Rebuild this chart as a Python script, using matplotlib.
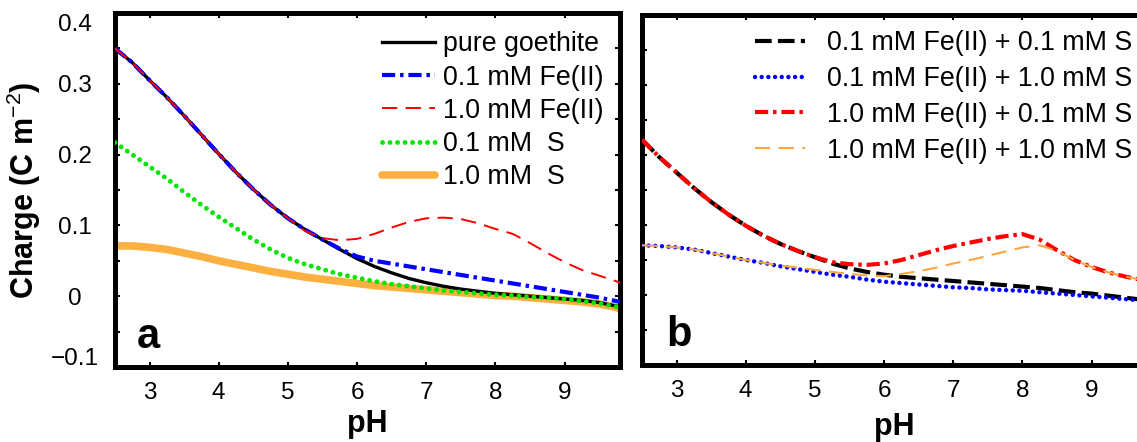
import matplotlib
matplotlib.use('Agg')
import matplotlib.pyplot as plt
from matplotlib.ticker import FixedLocator, FixedFormatter
from matplotlib.transforms import ScaledTranslation

plt.rcParams['font.family'] = ['Liberation Sans', 'DejaVu Sans']
plt.rcParams['mathtext.fontset'] = 'custom'
plt.rcParams['mathtext.rm'] = 'Liberation Sans'
plt.rcParams['lines.scale_dashes'] = False

# pH grid shared by all curves
ph = [2.5, 2.75, 3.0, 3.25, 3.5, 3.75, 4.0, 4.25, 4.5, 4.75, 5.0, 5.25, 5.5, 5.75,
      6.0, 6.25, 6.5, 6.75, 7.0, 7.25, 7.5, 7.75, 8.0, 8.25, 8.5, 8.75, 9.0, 9.25,
      9.5, 9.75, 9.8]

# panel a: single sorbates
pure_goethite = [0.350, 0.330, 0.305, 0.281, 0.255, 0.228, 0.201, 0.175, 0.151, 0.129,
                 0.110, 0.094, 0.080, 0.066, 0.053, 0.042, 0.033, 0.025, 0.019, 0.014,
                 0.010, 0.007, 0.004, 0.002, 0.000, -0.002, -0.004, -0.006, -0.009,
                 -0.014, -0.016]
fe01 = [0.350, 0.330, 0.305, 0.281, 0.255, 0.228, 0.201, 0.175, 0.151, 0.129,
        0.110, 0.094, 0.080, 0.067, 0.056, 0.050, 0.046, 0.042, 0.038, 0.034,
        0.030, 0.026, 0.022, 0.018, 0.014, 0.010, 0.006, 0.002, -0.002, -0.007,
        -0.008]
fe10 = [0.350, 0.330, 0.305, 0.281, 0.255, 0.228, 0.201, 0.175, 0.151, 0.129,
        0.110, 0.092, 0.082, 0.079, 0.081, 0.088, 0.097, 0.105, 0.110, 0.111,
        0.109, 0.103, 0.095, 0.088, 0.075, 0.061, 0.048, 0.037, 0.029, 0.021,
        0.019]
s01 = [0.217, 0.200, 0.183, 0.166, 0.147, 0.129, 0.112, 0.096, 0.080, 0.066,
       0.054, 0.045, 0.038, 0.031, 0.026, 0.021, 0.017, 0.014, 0.011, 0.008,
       0.006, 0.004, 0.002, 0.001, -0.001, -0.002, -0.004, -0.007, -0.010,
       -0.015, -0.016]
s10 = [0.071, 0.071, 0.069, 0.066, 0.061, 0.056, 0.050, 0.045, 0.040, 0.035,
       0.031, 0.027, 0.024, 0.021, 0.018, 0.015, 0.013, 0.011, 0.009, 0.007,
       0.005, 0.003, 0.001, 0.000, -0.002, -0.004, -0.006, -0.008, -0.011,
       -0.016, -0.018]

# panel b: Fe(II) + S combinations
fe01_s01 = [0.222, 0.197, 0.175, 0.153, 0.133, 0.115, 0.099, 0.085, 0.073, 0.063,
            0.054, 0.045, 0.038, 0.033, 0.029, 0.026, 0.024, 0.022, 0.020, 0.018,
            0.016, 0.014, 0.012, 0.010, 0.007, 0.004, 0.002, -0.001, -0.004,
            -0.007, -0.008]
fe01_s10 = [0.071, 0.070, 0.068, 0.065, 0.060, 0.055, 0.050, 0.046, 0.041, 0.037,
            0.033, 0.029, 0.026, 0.022, 0.019, 0.017, 0.015, 0.013, 0.011, 0.010,
            0.008, 0.007, 0.006, 0.004, 0.002, 0.000, -0.002, -0.004, -0.006,
            -0.008, -0.009]
fe10_s01 = [0.222, 0.197, 0.175, 0.153, 0.133, 0.115, 0.099, 0.085, 0.073, 0.063,
            0.054, 0.047, 0.044, 0.043, 0.045, 0.050, 0.057, 0.064, 0.070, 0.075,
            0.080, 0.084, 0.087, 0.079, 0.064, 0.050, 0.040, 0.032, 0.026, 0.021,
            0.020]
fe10_s10 = [0.071, 0.070, 0.068, 0.065, 0.060, 0.055, 0.050, 0.046, 0.042, 0.039,
            0.036, 0.033, 0.030, 0.028, 0.027, 0.030, 0.034, 0.039, 0.045, 0.050,
            0.056, 0.062, 0.068, 0.071, 0.063, 0.050, 0.040, 0.032, 0.026, 0.021,
            0.020]

xticks = [3, 4, 5, 6, 7, 8, 9]
yticks = [-0.1, 0.0, 0.1, 0.2, 0.3, 0.4]
ytick_labels = ['\u22120.1', '0', '0.1', '0.2', '0.3', '0.4']
yminor = [-0.05, 0.05, 0.15, 0.25, 0.35]

fig = plt.figure(figsize=(11.37, 4.42), dpi=100)
ax_a = fig.add_axes([0.1011, 0.1697, 0.4442, 0.8009])
ax_b = fig.add_axes([0.5646, 0.1742, 0.4442, 0.7919])


def style_axes(ax, show_ylabels):
    ax.set_xlim(2.5, 9.8)
    ax.set_ylim(-0.1, 0.4)
    for sp in ax.spines.values():
        sp.set_linewidth(3.6)
    ax.xaxis.set_major_locator(FixedLocator(xticks))
    ax.yaxis.set_major_locator(FixedLocator(yticks))
    ax.yaxis.set_minor_locator(FixedLocator(yminor))
    ax.tick_params(which='both', direction='in', length=3.6, width=1.5,
                   top=True, right=True, labelsize=17.5)
    ax.tick_params(axis='x', pad=11)
    if show_ylabels:
        ax.yaxis.set_major_formatter(FixedFormatter(ytick_labels))
        ax.tick_params(axis='y', pad=29)
        for lab in ax.get_yticklabels():
            lab.set_horizontalalignment('center')
    else:
        ax.tick_params(axis='y', labelleft=False)


style_axes(ax_a, True)
style_axes(ax_b, False)

# outermost y labels sit a little inside the frame
ticks_a = ax_a.yaxis.get_major_ticks()
for tick, dy in ((ticks_a[0], 7.2), (ticks_a[-1], -7.2)):
    lab = tick.label1
    lab.set_transform(lab.get_transform() + ScaledTranslation(0, dy / 72, fig.dpi_scale_trans))

# panel a
ax_a.plot(ph, s10, color='#fbb040', lw=5.5, solid_capstyle='round', zorder=1,
          label='1.0 mM  S')
ax_a.plot(ph, pure_goethite, color='black', lw=2.4, zorder=2, label='pure goethite')
ax_a.plot(ph, fe01, color='#0000ff', lw=3, dashes=(9.5, 3.5, 2.5, 3.5), zorder=3,
          label='0.1 mM Fe(II)')
ax_a.plot(ph, fe10, color='#ff0000', lw=1.4, dashes=(11, 6), zorder=4,
          label='1.0 mM Fe(II)')
ax_a.plot(ph, s01, color='#00e600', lw=3.5, dashes=(0.01, 5.4), dash_capstyle='round',
          zorder=5, label='0.1 mM  S')

handles, labels = ax_a.get_legend_handles_labels()
order = [1, 2, 3, 4, 0]
ax_a.legend([handles[i] for i in order], [labels[i] for i in order],
            loc='upper left', bbox_to_anchor=(0.529, 0.948), frameon=False,
            fontsize=19.3, handlelength=1.98, handletextpad=0.3, labelspacing=0.27,
            borderpad=0, borderaxespad=0)

ax_a.text(2.82, -0.073, 'a', fontsize=30, fontweight='bold', va='baseline')
ax_a.set_xlabel('pH', fontsize=22, fontweight='bold')
ax_a.xaxis.set_label_coords(0.5, -0.118)
ax_a.set_ylabel('Charge (C m$^{-2}$)', fontsize=22, fontweight='bold')
ax_a.yaxis.set_label_coords(-0.142, 0.5)

# panel b
ax_b.plot(ph, fe01_s01, color='black', lw=3, dashes=(12, 4.5), zorder=2,
          label='0.1 mM Fe(II) + 0.1 mM S')
ax_b.plot(ph, fe01_s10, color='#0000ff', lw=3.2, dashes=(0.01, 4.8),
          dash_capstyle='round', zorder=3, label='0.1 mM Fe(II) + 1.0 mM S')
ax_b.plot(ph, fe10_s01, color='#ff0000', lw=3, dashes=(9.5, 3.5, 2.5, 3.5), zorder=4,
          label='1.0 mM Fe(II) + 0.1 mM S')
ax_b.plot(ph, fe10_s10, color='#f8a640', lw=1.5, dashes=(11, 6), zorder=5,
          label='1.0 mM Fe(II) + 1.0 mM S')
ax_b.legend(loc='upper left', bbox_to_anchor=(0.224, 0.957), frameon=False,
            fontsize=19.3, handlelength=1.86, handletextpad=0.82, labelspacing=0.37,
            borderpad=0, borderaxespad=0)

ax_b.text(2.85, -0.073, 'b', fontsize=30, fontweight='bold', va='baseline')
ax_b.set_xlabel('pH', fontsize=22, fontweight='bold')
ax_b.xaxis.set_label_coords(0.5, -0.135)

fig.savefig('out.png', dpi=100)
